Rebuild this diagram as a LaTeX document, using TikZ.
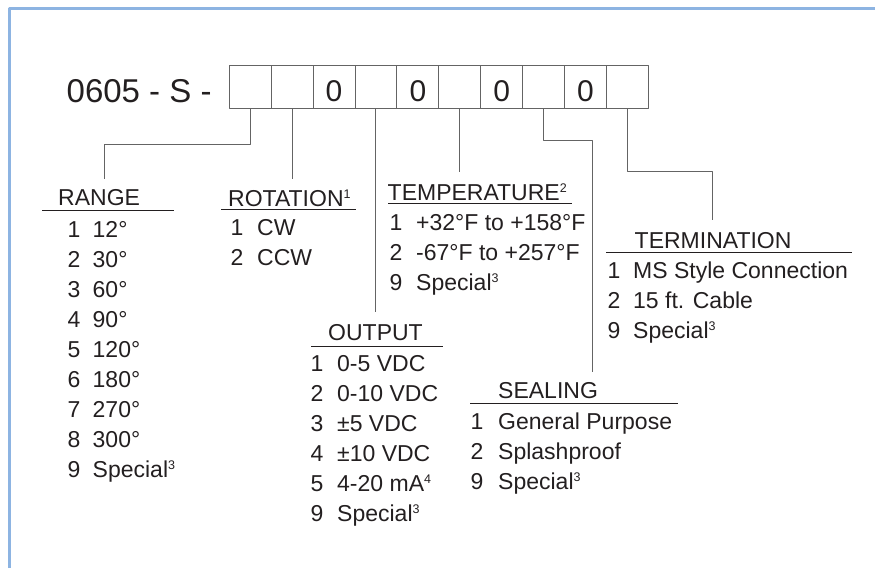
\documentclass[tikz,border=0pt]{standalone}
\usepackage{fontspec}
\setmainfont{Liberation Sans}
\definecolor{frameblue}{RGB}{141,180,226}
\definecolor{ink}{RGB}{35,31,32}
\definecolor{rule}{RGB}{100,100,100}
\newcommand{\smallsup}[1]{\raisebox{8pt}{\fontsize{12.5}{12.5}\selectfont #1}}
\tikzset{
  cell/.style={draw=rule,line width=1pt,minimum width=41.9pt,minimum height=42.5pt,inner sep=0pt},
  digit/.style={font=\fontsize{30}{30}\selectfont,text=ink,inner sep=0pt},
  head/.style={font=\fontsize{23}{27}\selectfont,text=ink,inner sep=0pt,anchor=base west},
  item/.style={font=\fontsize{23}{27}\selectfont,text=ink,inner sep=0pt,anchor=base west},
  lead/.style={draw=rule,line width=1pt},
  uline/.style={draw=ink,line width=1pt}
}
\begin{document}
\begin{tikzpicture}[x=1pt,y=-1pt,line join=round,line cap=butt]
	\useasboundingbox (0,0) rectangle (875,568);
	% frame
	\draw[frameblue,line width=3pt] (9.5,568)--(9.5,8.8)--(875,8.8);
	% part number
	\node[font=\fontsize{33}{36}\selectfont,text=ink,inner sep=0pt,anchor=base west] (code) at (66.5,102) {0605 - S -};
	\foreach \i in {1,...,10}
		\node[cell] (b\i) at ({229.3+41.9*(\i-0.5)},86.8) {};
	\foreach \i in {3,5,7,9}
		\node[digit,anchor=base] (z\i) at ([yshift=-15pt]b\i.center) {0};
	% free ends of the leads
	\coordinate (rangeend) at (104,179);
	\coordinate (outend) at (373,312);
	\coordinate (tempend) at (457,172);
	\coordinate (sealend) at (592,372);
	\coordinate (termend) at (712,220);
	\draw[lead] (b1.south) -- ++(0,36) -| (rangeend);
	\draw[lead] (b2.south) -- (b2.south |- rangeend);
	\draw[lead] (b4.south) -- (b4.south |- outend);
	\draw[lead] (b6.south) -- (b6.south |- tempend);
	\draw[lead] (b8.south) -- ++(0,32) -| (sealend);
	\draw[lead] (b10.south) -- ++(0,63) -| (termend);
	% RANGE
	\node[head] (range) at (58,205) {RANGE};
	\draw[uline] (42,210) -- (174,210);
	\foreach \n/\t [count=\k] in {1/12°,2/30°,3/60°,4/90°,5/120°,6/180°,7/270°,8/300°,9/Special\smallsup{3}}{
		\node[item] (rn\k) at (67.5,{237+30*(\k-1)}) {\n};
		\node[item] (rt\k) at (92.5,{237+30*(\k-1)}) {\t};
	}
	% ROTATION
	\node[head] (rotation) at (228,206) {ROTATION\smallsup{1}};
	\draw[uline] (221,209.5) -- (356,209.5);
	\foreach \n/\t [count=\k] in {1/CW,2/CCW}{
		\node[item] (on\k) at (230.5,{235+30*(\k-1)}) {\n};
		\node[item] (ot\k) at (257,{235+30*(\k-1)}) {\t};
	}
	% TEMPERATURE
	\node[head] (temperature) at (387.5,200) {TEMPERATURE\smallsup{2}};
	\draw[uline] (388,203.5) -- (572,203.5);
	\foreach \n/\t [count=\k] in {1/+32°F to +158°F,2/-67°F to +257°F,9/Special\smallsup{3}}{
		\node[item] (tn\k) at (389.5,{230+30*(\k-1)}) {\n};
		\node[item] (tt\k) at (416,{230+30*(\k-1)}) {\t};
	}
	% TERMINATION
	\node[head] (termination) at (634.5,248) {TERMINATION};
	\draw[uline] (606,252) -- (852,252);
	\foreach \n/\t [count=\k] in {1/MS Style Connection,2/15 ft. Cable,9/Special\smallsup{3}}{
		\node[item] (mn\k) at (607.5,{278+30*(\k-1)}) {\n};
		\node[item] (mt\k) at (633,{278+30*(\k-1)}) {\t};
	}
	% OUTPUT
	\node[head] (output) at (328,340) {OUTPUT};
	\draw[uline] (311,346) -- (443,346);
	\foreach \n/\t [count=\k] in {1/0-5 VDC,2/0-10 VDC,3/±5 VDC,4/±10 VDC,5/4-20 mA\smallsup{4},9/Special\smallsup{3}}{
		\node[item] (pn\k) at (310.5,{371+30*(\k-1)}) {\n};
		\node[item] (pt\k) at (337,{371+30*(\k-1)}) {\t};
	}
	% SEALING
	\node[head] (sealing) at (498,398) {SEALING};
	\draw[uline] (470,403) -- (678,403);
	\foreach \n/\t [count=\k] in {1/General Purpose,2/Splashproof,9/Special\smallsup{3}}{
		\node[item] (sn\k) at (470.5,{429+30*(\k-1)}) {\n};
		\node[item] (st\k) at (498,{429+30*(\k-1)}) {\t};
	}
\end{tikzpicture}
\end{document}
